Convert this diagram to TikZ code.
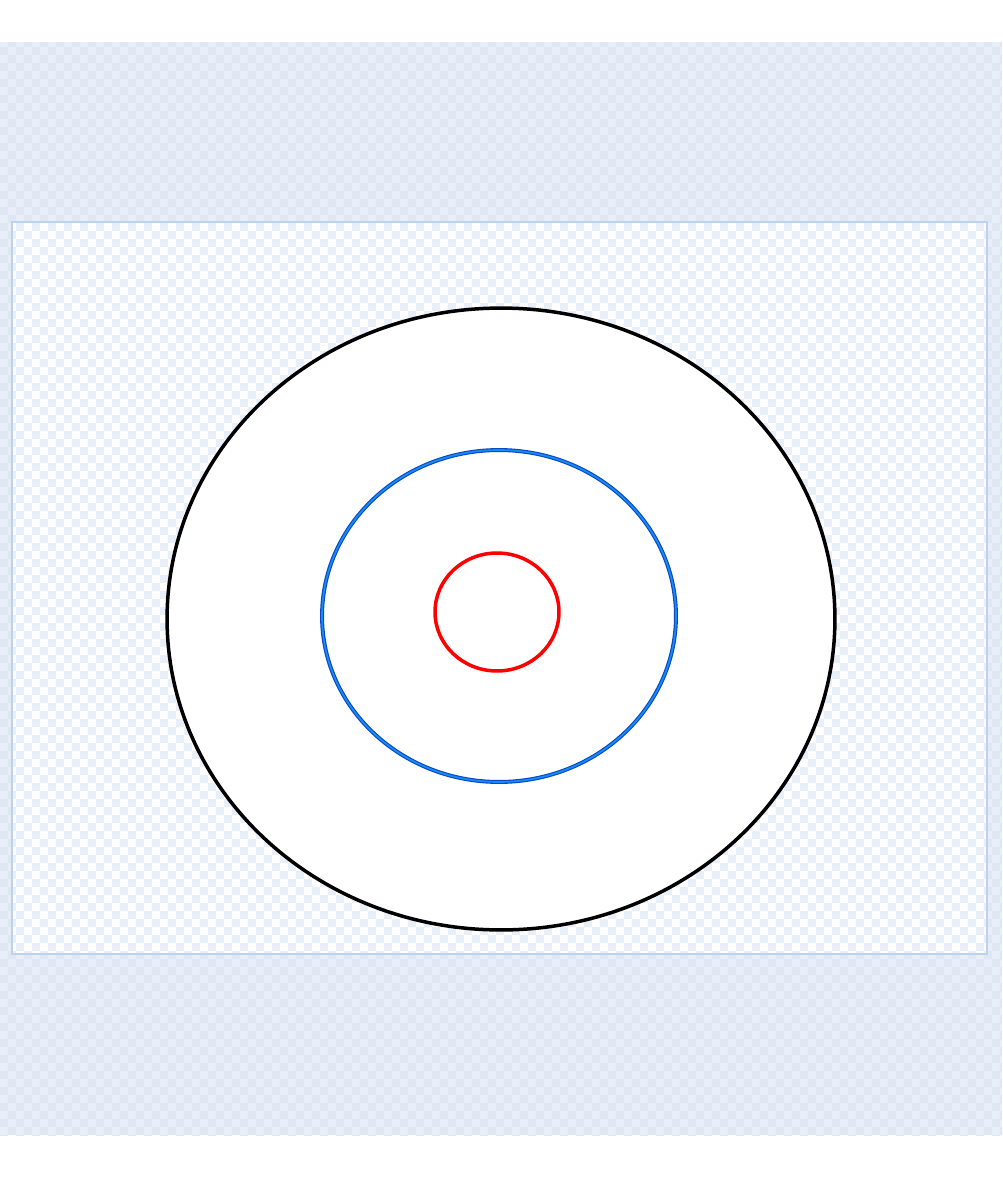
\documentclass[tikz,border=0pt]{standalone}
\usetikzlibrary{shapes.geometric, patterns}
\definecolor{bandbg}{RGB}{233,239,248}
\definecolor{bandsq}{RGB}{223,231,243}
\definecolor{panelsq}{RGB}{232,239,249}
\definecolor{panelline}{RGB}{190,210,240}
\definecolor{ringdark}{RGB}{10,70,200}
\definecolor{ringlight}{RGB}{20,140,240}
\pgfdeclarepatternformonly{chk}{\pgfpointorigin}{\pgfqpoint{9.1pt}{9.1pt}}{\pgfqpoint{9.1pt}{9.1pt}}{
	\pgfpathrectangle{\pgfpointorigin}{\pgfqpoint{4.55pt}{4.55pt}}
	\pgfpathrectangle{\pgfqpoint{4.55pt}{4.55pt}}{\pgfqpoint{4.55pt}{4.55pt}}
	\pgfusepath{fill}
}
\tikzset{
	ring/.style={ellipse, inner sep=0pt, line width=0.07cm},
}
\begin{document}
\begin{tikzpicture}[
        x=0.02cm, y=-0.02cm,
        ring/.style={ellipse, inner sep=0pt, line width=0.07cm},
    ]
        \useasboundingbox (0,0) rectangle (1002,1190);
        % backdrop
        \fill[bandbg] (0,42) rectangle (1002,1135);
        \fill[pattern=chk, pattern color=bandsq] (0,42) rectangle (1002,1135);
        \fill[white] (12,222) rectangle (987,954);
        \fill[pattern=chk, pattern color=panelsq] (12,222) rectangle (987,954);
        \draw[panelline, line width=0.03cm] (12,222) rectangle (987,954);

        \node[ring, draw=black, fill=white, minimum width=13.36cm, minimum height=12.44cm] (outer) at (501,619) {};
        \node[ring, draw=ringdark, double=ringlight, double distance=0.035cm, line width=0.022cm,
              minimum width=7.08cm, minimum height=6.64cm] (middle) at (499,616) {};
        \node[ring, draw=red, minimum width=2.48cm, minimum height=2.36cm] (inner) at (497,612) {};
    \end{tikzpicture}
\end{document}
